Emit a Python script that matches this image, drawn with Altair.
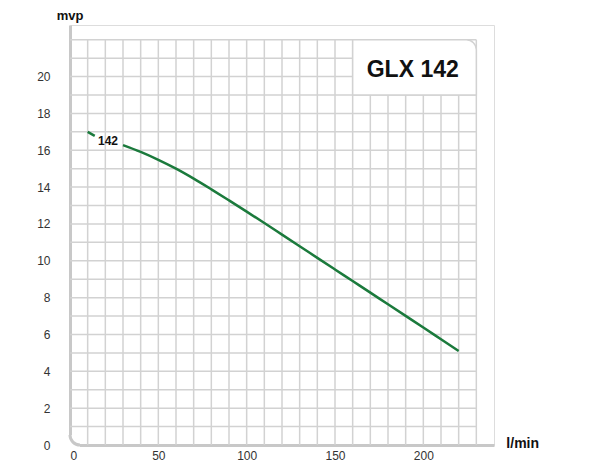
import math
import altair as alt
import pandas as pd

# curve data (flow l/min, head m)
flow = [10, 14, 30, 40, 50, 60, 70, 80, 90, 100, 110, 120, 130, 140, 150, 160, 170, 180, 190, 200, 210, 220]
head = [17.0, 16.78, 16.28, 15.91, 15.48, 15.0, 14.46, 13.88, 13.28, 12.67, 12.05, 11.42, 10.79, 10.16, 9.53, 8.9, 8.27, 7.64, 7.01, 6.38, 5.74, 5.1]
segment = [1, 1] + [2] * 20

x_ticks = [0, 50, 100, 150, 200]
y_ticks = [0, 2, 4, 6, 8, 10, 12, 14, 16, 18, 20]
grid_x = list(range(10, 231, 10))
grid_y = list(range(1, 23))

model_name = "GLX 142"
curve_label = "142"

FONT = "Liberation Sans"
GRID = "#d2d2d2"
AXIS = "#c8c8c8"
GREEN = "#1b7a3c"

W, H = 424, 420
XMAX, YMAX = 240, 22.8
PX_X = W / XMAX
PX_Y = H / YMAX
R = 10  # corner radius in px

xs = alt.Scale(domain=[0, XMAX], nice=False, zero=False)
ys = alt.Scale(domain=[0, YMAX], nice=False, zero=False)

x_axis = alt.Axis(
    values=x_ticks, title=None, grid=False, ticks=False, tickSize=0,
    domainColor=AXIS, domainWidth=3, labelPadding=5,
    labelFont=FONT, labelFontSize=12, labelColor="#333333",
)
y_axis = alt.Axis(
    values=y_ticks, title=None, grid=False, ticks=False, tickSize=0,
    domainColor=AXIS, domainWidth=3, labelPadding=20,
    labelFont=FONT, labelFontSize=12, labelColor="#333333",
)


def X(field):
    return alt.X(field, type="quantitative", scale=xs, axis=x_axis)


def Y(field):
    return alt.Y(field, type="quantitative", scale=ys, axis=y_axis)


curve_df = pd.DataFrame({"flow": flow, "head": head, "seg": segment})

vgrid = alt.Chart(pd.DataFrame({"x": grid_x, "y0": 0, "y1": 22})).mark_rule(
    color=GRID, strokeWidth=1.5
).encode(x=X("x"), y=Y("y0"), y2="y1:Q")

hgrid = alt.Chart(pd.DataFrame({"y": grid_y, "x0": 0, "x1": 230})).mark_rule(
    color=GRID, strokeWidth=1.5
).encode(y=Y("y"), x=X("x0"), x2="x1:Q")

# rounded bottom-left corner of the axis frame
corner_cover = alt.Chart(pd.DataFrame({
    "x0": [-2.5 / PX_X], "x1": [R / PX_X], "y0": [-2.5 / PX_Y], "y1": [R / PX_Y]
})).mark_rect(fill="white").encode(x=X("x0"), x2="x1:Q", y=Y("y0"), y2="y1:Q")

corner_arc = alt.Chart(pd.DataFrame({"cx": [R / PX_X], "cy": [R / PX_Y]})).mark_arc(
    color=AXIS, innerRadius=R - 1.5, outerRadius=R + 1.5, theta=math.pi, theta2=1.5 * math.pi
).encode(x=X("cx"), y=Y("cy"))

box = alt.Chart(pd.DataFrame({"x0": [160], "x1": [230], "y0": [19], "y1": [22]})).mark_rect(
    fill="white", stroke=GRID, strokeWidth=1.5, cornerRadiusTopRight=10
).encode(x=X("x0"), x2="x1:Q", y=Y("y0"), y2="y1:Q")

box_text = alt.Chart(pd.DataFrame({"x": [194], "y": [20.35], "t": [model_name]})).mark_text(
    font=FONT, fontSize=23, fontWeight="bold", color="#111111", align="center", baseline="middle"
).encode(x=X("x"), y=Y("y"), text="t:N")

curve = alt.Chart(curve_df).mark_line(
    color=GREEN, strokeWidth=2.5, interpolate="monotone"
).encode(x=X("flow"), y=Y("head"), detail="seg:N")

label = alt.Chart(pd.DataFrame({"x": [21.5], "y": [16.52], "t": [curve_label]})).mark_text(
    font=FONT, fontSize=12, fontWeight="bold", color="#111111", align="center", baseline="middle"
).encode(x=X("x"), y=Y("y"), text="t:N")

titles_mvp = alt.Chart(pd.DataFrame({"x": [0], "y": [YMAX + 15.5 / PX_Y], "t": ["mvp"]})).mark_text(
    font=FONT, fontSize=13, fontWeight="bold", color="#111111", baseline="top", align="center"
).encode(x=X("x"), y=Y("y"), text="t:N")

titles_x = alt.Chart(pd.DataFrame({"x": [247], "y": [0.05], "t": ["l/min"]})).mark_text(
    font=FONT, fontSize=14, fontWeight="bold", color="#111111", baseline="middle", align="left"
).encode(x=X("x"), y=Y("y"), text="t:N")

chart = alt.layer(
    vgrid, hgrid, corner_cover, corner_arc, box, box_text, curve, label, titles_mvp, titles_x
).properties(
    width=W,
    height=H,
    padding={"left": 62, "top": 17, "right": 98, "bottom": 17},
    autosize=alt.AutoSizeParams(type="none"),
).configure_view(stroke=None).configure(background="white")

chart.save("out.html", embed_options={"renderer": "svg", "actions": False})
